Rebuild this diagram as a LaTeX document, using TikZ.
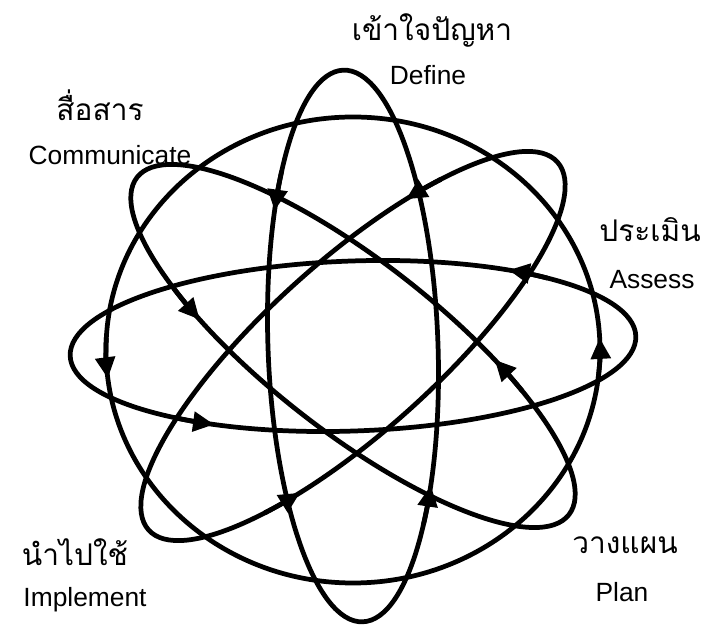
\documentclass[tikz,border=0pt]{standalone}
\usepackage{fontspec}
\setmainfont{Liberation Sans}
\newfontfamily\thaifont[Script=Thai]{Loma}
\usetikzlibrary{arrows.meta}

\begin{document}
\begin{tikzpicture}[line width=2.7pt,
		flow/.style={-{Triangle[length=12pt,width=11pt]}},
		thlabel/.style={font=\thaifont\fontsize{17}{20}\selectfont},
		enlabel/.style={font=\fontsize{15}{18}\selectfont}]
		\useasboundingbox (-7.06,-5.64) rectangle (6.96,6.92);
		% ---- outer ring ----
		\begin{scope}[yshift=-0.08cm]
			\draw (0,0) ellipse[x radius=4.94, y radius=4.66];
			\draw[flow] (-7:4.94 and 4.66) arc[start angle=-7, end angle=3, x radius=4.94, y radius=4.66];
			\draw[flow] (177:4.94 and 4.66) arc[start angle=177, end angle=187, x radius=4.94, y radius=4.66];
		\end{scope}
		% ---- flat loop ----
		\begin{scope}[rotate=2]
			\draw (0,0) ellipse[x radius=5.66, y radius=1.70];
			\draw[flow] (46:5.66 and 1.70) arc[start angle=46, end angle=56, x radius=5.66, y radius=1.70];
			\draw[flow] (230:5.66 and 1.70) arc[start angle=230, end angle=240, x radius=5.66, y radius=1.70];
		\end{scope}
		% ---- rising loop ----
		\begin{scope}[rotate=42]
			\draw (0,0) ellipse[x radius=5.50, y radius=1.70];
			\draw[flow] (50:5.50 and 1.70) arc[start angle=50, end angle=60, x radius=5.50, y radius=1.70];
			\draw[flow] (230:5.50 and 1.70) arc[start angle=230, end angle=240, x radius=5.50, y radius=1.70];
		\end{scope}
		% ---- upright loop ----
		\begin{scope}[rotate=92]
			\draw (0,0) ellipse[x radius=5.52, y radius=1.70];
			\draw[flow] (50:5.52 and 1.70) arc[start angle=50, end angle=60, x radius=5.52, y radius=1.70];
			\draw[flow] (229:5.52 and 1.70) arc[start angle=229, end angle=239, x radius=5.52, y radius=1.70];
		\end{scope}
		% ---- falling loop ----
		\begin{scope}[rotate=142]
			\draw (0,0) ellipse[x radius=5.48, y radius=1.70];
			\draw[flow] (50:5.48 and 1.70) arc[start angle=50, end angle=60, x radius=5.48, y radius=1.70];
			\draw[flow] (234:5.48 and 1.70) arc[start angle=234, end angle=244, x radius=5.48, y radius=1.70];
		\end{scope}
		% ---- labels ----
		\node[thlabel] (defth) at (1.58,6.32) {เข้าใจปัญหา};
		\node[enlabel] (defen) at (1.50,5.42) {Define};
		\node[thlabel] (comth) at (-5.06,4.82) {สื่อสาร};
		\node[enlabel] (comen) at (-4.86,3.82) {Communicate};
		\node[thlabel] (assth) at (5.94,2.32) {ประเมิน};
		\node[enlabel] (assen) at (5.98,1.32) {Assess};
		\node[thlabel] (plath) at (5.44,-3.98) {วางแผน};
		\node[enlabel] (plaen) at (5.38,-4.92) {Plan};
		\node[thlabel] (impth) at (-5.56,-4.12) {นำไปใช้};
		\node[enlabel] (impen) at (-5.36,-5.08) {Implement};
	\end{tikzpicture}
\end{document}
